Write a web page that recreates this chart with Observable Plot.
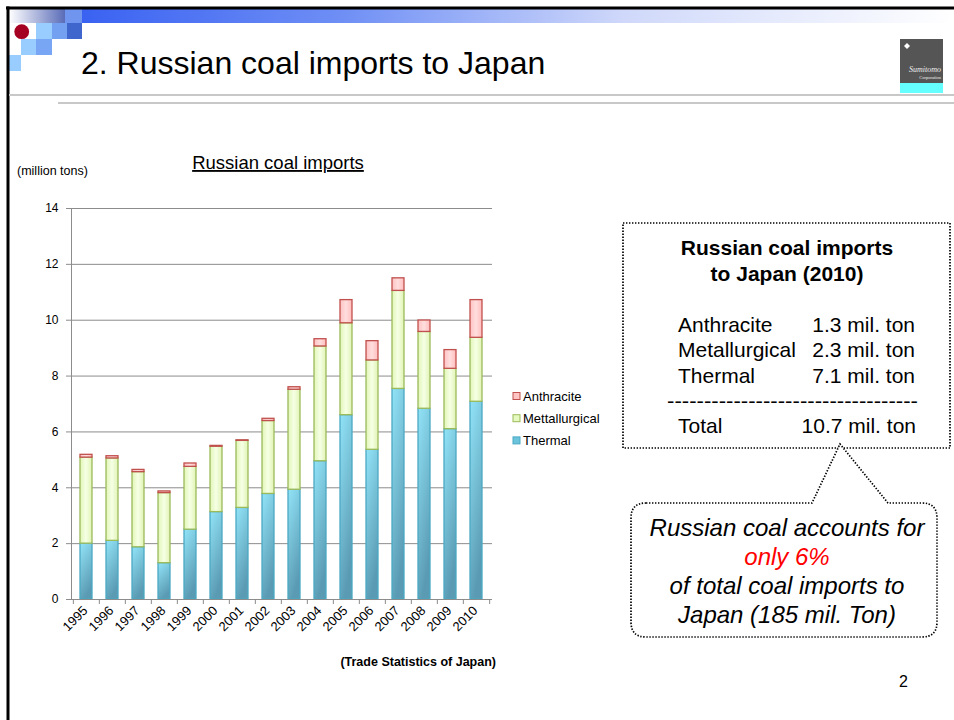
<!DOCTYPE html>
<html>
<head>
<meta charset="utf-8">
<script src="https://cdn.jsdelivr.net/npm/d3@7"></script>
<script src="https://cdn.jsdelivr.net/npm/@observablehq/plot@0.6"></script>
<style>
  html, body { margin: 0; padding: 0; background: #fff; }
  #page { position: relative; width: 954px; height: 720px; overflow: hidden; background: #fff;
          font-family: "Liberation Sans", Arial, sans-serif; }
  #chart { position: absolute; left: 0; top: 190px; }
  #overlay { position: absolute; left: 0; top: 0; pointer-events: none; }
</style>
</head>
<body>
<div id="page">
  <div id="chart"></div>
  <svg id="overlay" width="954" height="720" xmlns="http://www.w3.org/2000/svg"></svg>
</div>
<script>
// ---- data (million tons) ----
const years = ["1995","1996","1997","1998","1999","2000","2001","2002","2003","2004","2005","2006","2007","2008","2009","2010"];
const thermal =       [2.00, 2.10, 1.87, 1.30, 2.50, 3.13, 3.28, 3.78, 3.93, 4.95, 6.60, 5.36, 7.54, 6.83, 6.10, 7.08];
const metallurgical = [3.08, 2.95, 2.69, 2.51, 2.25, 2.34, 2.40, 2.61, 3.58, 4.11, 3.29, 3.20, 3.51, 2.75, 2.16, 2.29];
const anthracite =    [0.10, 0.08, 0.08, 0.06, 0.12, 0.03, 0.02, 0.08, 0.09, 0.26, 0.83, 0.69, 0.45, 0.41, 0.67, 1.35];
const seriesNames = ["Thermal", "Mettallurgical", "Anthracite"];
const yTicks = [0, 2, 4, 6, 8, 10, 12, 14];

// summary box (2010)
const summaryLabels = ["Anthracite", "Metallurgical", "Thermal"];
const summaryValues = [1.3, 2.3, 7.1];
const summaryTotal = 10.7;

// ---- table for Plot ----
const seriesValues = [thermal, metallurgical, anthracite];
const rows = years.flatMap((yr, i) => seriesNames.map((s, k) => ({year: yr, series: s, value: seriesValues[k][i]})));

const fillRange = ["url(#gThermal)", "url(#gMet)", "url(#gAnth)"];
const edgeRange = ["#4aa9c4", "#9bbb59", "#c0504d"];
const legendFill = ["#6cc3dc", "#e6f9c0", "#ffc4c4"];

const W = 510, H = 460, ML = 71, MR = 18, MT = 18, MB = 51;
const halfStep = (W - ML - MR) / years.length / 2;
const gridColor = "#8c8c8c";

function defsMark(index, scales, values, dims) {
  const ns = "http://www.w3.org/2000/svg";
  const g = document.createElementNS(ns, "g");
  g.innerHTML = `
    <defs>
      <linearGradient id="gThermal" x1="0" y1="0" x2="0.35" y2="1">
        <stop offset="0" stop-color="#92e4f8"/>
        <stop offset="1" stop-color="#5a9bb3"/>
      </linearGradient>
      <linearGradient id="gMet" x1="0" y1="0" x2="1" y2="0">
        <stop offset="0" stop-color="#e2f6b8"/>
        <stop offset="0.5" stop-color="#f6ffe4"/>
        <stop offset="1" stop-color="#e0f3b6"/>
      </linearGradient>
      <linearGradient id="gAnth" x1="0" y1="0" x2="1" y2="0">
        <stop offset="0" stop-color="#ffc2c2"/>
        <stop offset="0.5" stop-color="#ffdede"/>
        <stop offset="1" stop-color="#ffbcbc"/>
      </linearGradient>
    </defs>`;
  // y axis line, placed with the y scale
  const line = document.createElementNS(ns, "line");
  line.setAttribute("x1", dims.marginLeft + 0.5);
  line.setAttribute("x2", dims.marginLeft + 0.5);
  line.setAttribute("y1", scales.y(0));
  line.setAttribute("y2", scales.y(14));
  line.setAttribute("stroke", gridColor);
  g.appendChild(line);
  return g;
}

const chart = Plot.plot({
  width: W, height: H,
  marginLeft: ML, marginRight: MR, marginTop: MT, marginBottom: MB,
  style: {fontFamily: "'Liberation Sans', Arial, sans-serif", fontSize: "12px", color: "#000", background: "transparent", overflow: "visible"},
  x: {domain: years, paddingInner: 0.52, paddingOuter: 0.26, label: null},
  y: {domain: [0, 14], label: null},
  color: {type: "ordinal",
          domain: [...seriesNames, ...seriesNames.map(s => s + " edge")],
          range: [...fillRange, ...edgeRange]},
  marks: [
    Plot.gridY(yTicks.filter(t => t > 0), {stroke: gridColor, strokeOpacity: 1}),
    defsMark,
    Plot.barY(rows, Plot.stackY({x: "year", y: "value", fill: "series", stroke: d => d.series + " edge", strokeWidth: 1.3})),
    Plot.ruleY([0], {stroke: gridColor}),
    Plot.axisY(yTicks, {tickSize: 5, tickPadding: 8, stroke: gridColor, fontSize: 12}),
    Plot.axisX({tickSize: 0, tickRotate: -45, tickPadding: 9, dx: -1, fontSize: 13}),
    Plot.axisX({tickSize: 5, tickFormat: () => "", dx: -halfStep, stroke: gridColor}),
    Plot.axisX([years[years.length - 1]], {tickSize: 5, tickFormat: () => "", dx: halfStep, stroke: gridColor})
  ]
});
document.getElementById("chart").appendChild(chart);

// ---- slide decorations and text ----
const ov = document.getElementById("overlay");
let s = `
  <defs>
    <linearGradient id="topBar" x1="0" y1="0" x2="1" y2="0">
      <stop offset="0" stop-color="#3a62f2"/>
      <stop offset="0.3" stop-color="#6f8ff5"/>
      <stop offset="0.62" stop-color="#cfd8fa"/>
      <stop offset="1" stop-color="#ffffff"/>
    </linearGradient>
    <linearGradient id="topSq" x1="0" y1="0" x2="1" y2="0">
      <stop offset="0" stop-color="#ffffff"/>
      <stop offset="1" stop-color="#5a6cb8"/>
    </linearGradient>
  </defs>
  <rect x="82" y="9" width="872" height="14" fill="url(#topBar)"/>
  <rect x="9" y="9" width="56" height="14" fill="url(#topSq)"/>
  <rect x="65" y="9" width="17" height="14" fill="#6f95ef"/>
  <rect x="36" y="23" width="16" height="16" fill="#99ccff"/>
  <rect x="52" y="23" width="15" height="16" fill="#74a0f2"/>
  <rect x="67" y="23" width="15" height="16" fill="#3f66cc"/>
  <rect x="21" y="39" width="15" height="16" fill="#99ccff"/>
  <rect x="36" y="39" width="16" height="16" fill="#78a6f4"/>
  <rect x="7" y="55" width="14" height="16" fill="#99ccff"/>
  <circle cx="21.7" cy="31.7" r="7.4" fill="#a50021"/>
  <line x1="6" y1="8" x2="954" y2="8" stroke="#000" stroke-width="3"/>
  <line x1="8" y1="6.5" x2="8" y2="720" stroke="#000" stroke-width="3"/>
  <line x1="9" y1="95" x2="954" y2="95" stroke="#c8c8c8" stroke-width="2"/>
  <line x1="58" y1="103" x2="954" y2="103" stroke="#c8c8c8" stroke-width="2"/>
  <text x="81" y="74" font-size="32" fill="#000">2. Russian coal imports to Japan</text>
  <rect x="900" y="39" width="43" height="45" fill="#555"/>
  <rect x="900" y="83" width="43" height="10" fill="#66ffff"/>
  <path d="M907,43 l3,3 l-3,3 l-3,-3z" fill="#fff"/>
  <text x="941" y="72" font-size="8" font-style="italic" font-family="'Liberation Serif', serif" fill="#eee" text-anchor="end">Sumitomo</text>
  <text x="941" y="79" font-size="4.5" font-family="'Liberation Serif', serif" fill="#eee" text-anchor="end">Corporation</text>
  <text x="17" y="175" font-size="12.5" fill="#000">(million tons)</text>
  <text x="278" y="169" font-size="18.5" fill="#000" text-anchor="middle" text-decoration="underline">Russian coal imports</text>
  <text x="496" y="666" font-size="12.5" font-weight="bold" fill="#000" text-anchor="end">(Trade Statistics of Japan)</text>
  <text x="908" y="687" font-size="16" fill="#000" text-anchor="end">2</text>
`;
// legend (top to bottom: Anthracite, Mettallurgical, Thermal)
const legendOrder = [2, 1, 0];
legendOrder.forEach((k, i) => {
  const by = 400.5 + i * 22.2;
  s += `<rect x="513" y="${by - 8}" width="7" height="7" fill="${legendFill[k]}" stroke="${edgeRange[k]}" stroke-width="1"/>`;
  s += `<text x="523" y="${by}" font-size="13" fill="#000">${seriesNames[k]}</text>`;
});
// summary box
const dot = `stroke="#000" stroke-width="1.7" stroke-dasharray="1.4 1.6"`;
s += `<rect x="623" y="223" width="327" height="225" fill="none" ${dot}/>`;
s += `<text x="787" y="255" font-size="21" font-weight="bold" text-anchor="middle">Russian coal imports</text>`;
s += `<text x="787" y="281" font-size="21" font-weight="bold" text-anchor="middle">to Japan (2010)</text>`;
summaryLabels.forEach((lab, i) => {
  const by = 331.5 + i * 25.7;
  s += `<text x="678" y="${by}" font-size="21">${lab}</text>`;
  s += `<text x="915" y="${by}" font-size="21" text-anchor="end">${summaryValues[i].toFixed(1)} mil. ton</text>`;
});
s += `<text x="667" y="408" font-size="20" textLength="251" lengthAdjust="spacingAndGlyphs">----------------------------------</text>`;
s += `<text x="678" y="433" font-size="21">Total</text>`;
s += `<text x="916" y="433" font-size="21" text-anchor="end">${summaryTotal.toFixed(1)} mil. ton</text>`;
// callout bubble
s += `<path d="M646,503 L812,503 L840,444 L888,503 L922,503 Q937,503 937,518 L937,622 Q937,637 922,637 L646,637 Q631,637 631,622 L631,518 Q631,503 646,503 Z" fill="#fff" ${dot}/>`;
s += `<g font-size="24" font-style="italic" text-anchor="middle">
  <text x="787" y="536">Russian coal accounts for</text>
  <text x="787" y="565" fill="#ff0000">only 6%</text>
  <text x="787" y="594">of total coal imports to</text>
  <text x="787" y="623">Japan (185 mil. Ton)</text>
</g>`;
ov.innerHTML = s;
</script>
</body>
</html>
